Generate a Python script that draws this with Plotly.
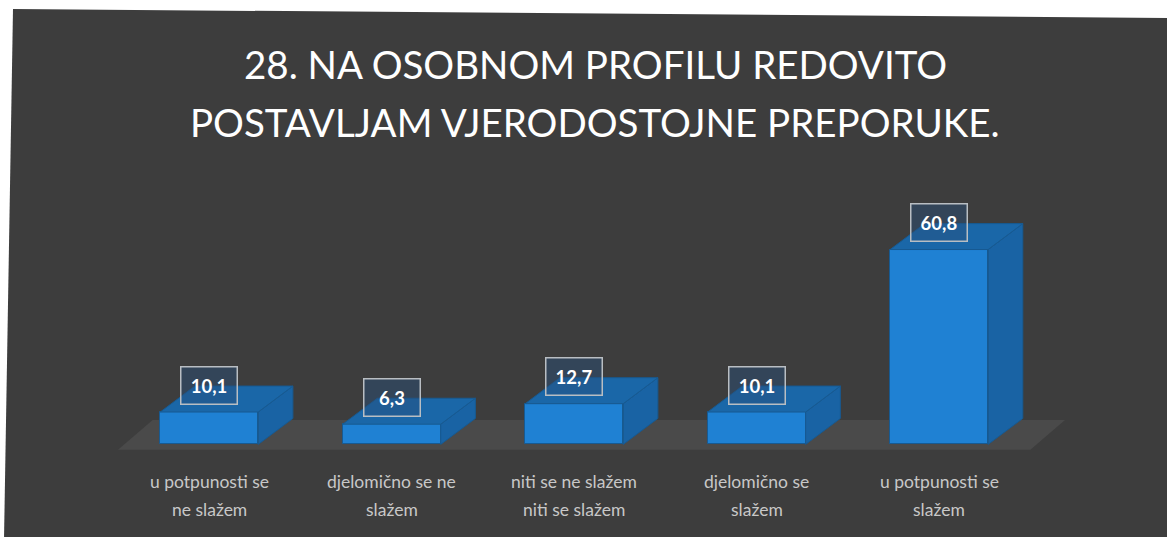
import plotly.graph_objects as go

# ---- data ----
categories = ["u potpunosti se<br>ne slažem", "djelomično se ne<br>slažem",
              "niti se ne slažem<br>niti se slažem", "djelomično se<br>slažem",
              "u potpunosti se<br>slažem"]
values = [10.1, 6.3, 12.7, 10.1, 60.8]
value_labels = ["10,1", "6,3", "12,7", "10,1", "60,8"]
title_lines = ["28. NA OSOBNOM PROFILU REDOVITO", "POSTAVLJAM VJERODOSTOJNE PREPORUKE."]

# ---- style / geometry ----
W, H = 1167, 537
ML, MR, MT, MB = 118, 91, 188, 83
XR = [-0.5, 4.75]
YR = [-3, 80]
BAR_W = 0.537
DX, DY = 0.19, 8.1          # pseudo-3D depth offset (data units)
FRONT = "#1f81d3"
TOP = "#1a67a8"
SIDE = "#1963a4"
EDGE = "#175a92"
BG = "#3d3d3d"
FLOOR = "#4a4a4a"
FONT = "Lato"

xs = list(range(len(categories)))
pw = W - ML - MR
ph = H - MT - MB


def px(xp):
    return (xp - ML) / pw


def py(yp):
    return (H - MB - yp) / ph


fig = go.Figure()

# front faces
fig.add_trace(go.Bar(x=xs, y=values, width=BAR_W, marker=dict(color=FRONT, line=dict(color=EDGE, width=1)),
                     hoverinfo="skip", showlegend=False))

# side and top faces derived from values
for x, v in zip(xs, values):
    l, r = x - BAR_W / 2, x + BAR_W / 2
    fig.add_trace(go.Scatter(x=[r, r + DX, r + DX, r, r], y=[0, DY, v + DY, v, 0], fill="toself",
                             fillcolor=SIDE, mode="lines", line=dict(color=EDGE, width=1),
                             hoverinfo="skip", showlegend=False))
    fig.add_trace(go.Scatter(x=[l, r, r + DX, l + DX, l], y=[v, v, v + DY, v + DY, v], fill="toself",
                             fillcolor=TOP, mode="lines", line=dict(color=EDGE, width=1),
                             hoverinfo="skip", showlegend=False))

# value labels
for x, v, t in zip(xs, values, value_labels):
    fig.add_annotation(x=x, y=v, text=f"<b>{t}</b>", showarrow=False, yshift=27,
                       xanchor="center", yanchor="middle", width=53, height=34,
                       bgcolor="rgba(40,80,125,0.45)", bordercolor="#b9bec3", borderwidth=1.5,
                       font=dict(family=FONT, size=18.5, color="white"))

# category labels (two lines each)
for x, c in zip(xs, categories):
    for k, line in enumerate(c.split("<br>")):
        fig.add_annotation(x=x, y=py(481 + 28 * k), xref="x", yref="paper", text=line, showarrow=False,
                           xanchor="center", yanchor="middle",
                           font=dict(family=FONT, size=17.5, color="#c8c8c8"))

# title (two lines)
for k, line in enumerate(title_lines):
    fig.add_annotation(x=px(595), y=py(64 + 58 * k), xref="paper", yref="paper", text=line,
                       showarrow=False, xanchor="center", yanchor="middle",
                       font=dict(family=FONT, size=38.5, color="white"))

# floor (behind bars)
x0, x1 = -0.5, len(categories) - 0.5
fy = -1.7
fig.add_shape(type="path", xref="x", yref="y", layer="below",
              path=f"M {x0},{fy} L {x1},{fy} L {x1 + DX},{fy + DY + 1.2} L {x0 + DX},{fy + DY + 1.2} Z",
              fillcolor=FLOOR, line=dict(width=0))

# scanned page background (slightly rotated dark panel)
fig.add_shape(type="path", xref="paper", yref="paper", layer="below",
              path=(f"M {px(13)},{py(9)} L {px(1170)},{py(18)} L {px(1170)},{py(540)} "
                    f"L {px(4)},{py(540)} Z"),
              fillcolor=BG, line=dict(width=0))

fig.update_layout(
    width=W, height=H,
    margin=dict(l=ML, r=MR, t=MT, b=MB),
    paper_bgcolor="white",
    plot_bgcolor="rgba(0,0,0,0)",
    bargap=0,
    xaxis=dict(range=XR, tickvals=xs, showticklabels=False, showgrid=False, zeroline=False,
               showline=False, ticks="", fixedrange=True),
    yaxis=dict(range=YR, visible=False, showgrid=False, zeroline=False, fixedrange=True),
    showlegend=False,
)

fig.write_html("out.html", config={"displayModeBar": False},
               post_script="document.body.style.margin='0';document.body.style.overflow='hidden';")
